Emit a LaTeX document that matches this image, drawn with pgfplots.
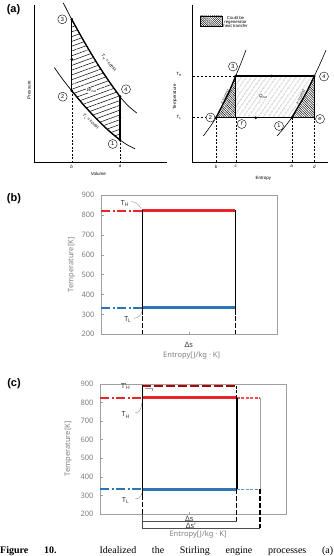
\documentclass[border=0pt]{standalone}
\usepackage{fontspec}
\setmainfont{Noto Sans}
\newfontfamily\arialf{Liberation Sans}
\newfontfamily\timesf{Liberation Serif}
\usepackage{pgfplots}
\pgfplotsset{compat=1.18}
\usetikzlibrary{patterns.meta}
\definecolor{tred}{HTML}{E8262A}
\definecolor{tdred}{HTML}{B00000}
\definecolor{tblue}{HTML}{2E75B6}
\definecolor{lblue}{HTML}{5B9BD5}
\definecolor{lred}{HTML}{F05050}
\definecolor{tgray}{HTML}{7F7F7F}
\definecolor{bgray}{HTML}{A0A0A0}
\newcommand\fs[1]{\fontsize{#1}{#1}\selectfont}
\pgfplotsset{
  tsax/.style={scale only axis, anchor=south west, clip=false,
    xmin=0, xmax=100, ymin=200, ymax=900,
    axis line style={bgray, line width=0.6pt},
    ytick={200,300,...,900}, tick align=inside, major tick length=2.5pt,
    tick style={bgray, line width=0.5pt},
    xtick pos=bottom, ytick pos=left,
    /pgf/number format/assume math mode=true,
    yticklabel style={font=\fs{7.5}, text=tgray, xshift=-3pt},
    xticklabel style={font=\fs{7.5}, text=black!80},
    ylabel={Temperature[K]}, xlabel={Entropy[J/kg · K]},
    label style={font=\fs{7.5}, text=tgray},
  },
  dd/.style={dash pattern=on 9pt off 2.5pt on 2pt off 2.5pt},
  bd/.style={dash pattern=on 4.5pt off 2.5pt},
}
\begin{document}
\begin{tikzpicture}
\path[use as bounding box] (0,0) rectangle (333pt,-556pt);
\node[font=\arialf\bfseries\fs{11}] at (13.5pt,-9.5pt) {(a)};
\node[font=\arialf\bfseries\fs{11}] at (14pt,-199pt) {(b)};
\node[font=\arialf\bfseries\fs{11}] at (14pt,-383.5pt) {(c)};

% ================= panel (a) =================
\begin{axis}[at={(0pt,-185pt)}, anchor=south west, width=333pt, height=185pt, scale only axis,
  xmin=0, xmax=333, ymin=-185, ymax=0, hide axis, clip=false]
% ---- P-V diagram
\addplot[draw=none, pattern={Lines[angle=20,distance=4.5pt,line width=0.5pt]}] coordinates {(71.7,-19.3) (83.8,-41.0) (95.9,-61.3) (107.9,-79.7) (120,-96.6) (120,-140) (107.9,-129.9) (95.9,-118.2) (83.8,-105.2) (71.7,-90.7)} -- cycle;
\addplot[black, line width=0.6pt] coordinates {(34,-5) (34,-162.3) (167,-162.3)};
\addplot[black, line width=0.7pt, smooth] coordinates {(63.3,-2.9) (71.7,-19.3) (83.8,-41.0) (95.9,-61.3) (107.9,-79.7) (120,-96.6) (128.3,-105.9) (136.7,-113)};
\addplot[black, line width=0.7pt, smooth] coordinates {(54.3,-67.5) (63,-79.7) (71.7,-90.7) (83.8,-105.2) (95.9,-118.2) (107.9,-129.9) (120,-140) (127.5,-145) (135,-148.8)};
\addplot[black, line width=1.3pt, smooth] coordinates {(71.7,-19.3) (83.8,-41.0) (95.9,-61.3) (107.9,-79.7) (120,-96.6)};
\addplot[black, line width=1.3pt, smooth] coordinates {(71.7,-90.7) (83.8,-105.2) (95.9,-118.2) (107.9,-129.9) (120,-140)};
\addplot[black, line width=1.3pt] coordinates {(71.7,-19.3) (71.7,-90.7)};
\addplot[black, line width=1.3pt] coordinates {(120,-96.6) (120,-140)};
\addplot[black, line width=0.4pt, dash pattern=on 2pt off 1.5pt] coordinates {(71.7,-90.7) (71.7,-162.3)};
\addplot[black, line width=0.4pt, dash pattern=on 2pt off 1.5pt] coordinates {(120,-140) (120,-162.3)};
\addplot[only marks, mark=*, mark size=1.1pt, black] coordinates {(71.7,-19.3) (71.7,-90.7) (120,-96.6) (120,-140) (71.7,-59.3) (120,-117.3)};
\node[circle, draw, inner sep=0pt, minimum size=9pt, font=\arialf\fs{5.5}, fill=white] at (axis cs:62.3,-19.3) {3};
\node[circle, draw, inner sep=0pt, minimum size=9pt, font=\arialf\fs{5.5}, fill=white] at (axis cs:62.7,-96.7) {2};
\node[circle, draw, inner sep=0pt, minimum size=9pt, font=\arialf\fs{5.5}, fill=white] at (axis cs:126,-89.3) {4};
\node[circle, draw, inner sep=0pt, minimum size=9pt, font=\arialf\fs{5.5}, fill=white] at (axis cs:112.7,-144) {1};
\node[font=\arialf\fs{4.5}, rotate=-50, inner sep=0pt] at (axis cs:108.5,-63) {\textit{T}\textsubscript{H}\,=\,const};
\node[font=\arialf\fs{4.5}, rotate=-42, inner sep=0pt] at (axis cs:90.5,-121.5) {\textit{T}\textsubscript{L}\,=\,const};
\node[font=\arialf\fs{4.5}, fill=white, inner sep=0.5pt] at (axis cs:91.7,-90.7) {\textit{W}\textsubscript{net}};
\node[font=\arialf\fs{4.5}, rotate=90] at (axis cs:29,-90) {Pressure};
\node[font=\arialf\fs{4.5}] at (axis cs:98.3,-174) {Volume};
\node[font=\arialf\itshape\fs{4.5}] at (axis cs:71.7,-166.5) {b};
\node[font=\arialf\itshape\fs{4.5}] at (axis cs:120,-166.5) {a};
% ---- T-S diagram
\addplot[draw=none, pattern={Lines[angle=55,distance=4pt,line width=0.45pt]}] coordinates {(216,-117.7) (222,-106) (229,-92) (235.7,-76) (314.3,-76) (306.6,-92) (298.6,-106) (291.7,-117.7)} -- cycle;
\addplot[draw=none, pattern={Lines[angle=-45,distance=1.7pt,line width=0.45pt]}] coordinates {(216,-117.7) (222,-106) (229,-92) (235.7,-76) (235.7,-117.7)} -- cycle;
\addplot[draw=none, pattern={Lines[angle=-45,distance=1.7pt,line width=0.45pt]}] coordinates {(291.7,-117.7) (298.6,-106) (306.6,-92) (314.3,-76) (314.3,-117.7)} -- cycle;
\addplot[black, line width=0.6pt] coordinates {(192.5,-5) (192.5,-162.7) (328,-162.7)};
\addplot[black, line width=0.4pt, dash pattern=on 2.5pt off 1.5pt] coordinates {(192.5,-76) (235.7,-76)};
\addplot[black, line width=0.4pt, dash pattern=on 2.5pt off 1.5pt] coordinates {(192.5,-117.7) (216,-117.7)};
\addplot[black, line width=0.4pt, dash pattern=on 2pt off 1.5pt] coordinates {(216,-117.7) (216,-162.7)};
\addplot[black, line width=0.4pt, dash pattern=on 2pt off 1.5pt] coordinates {(235.7,-117.7) (235.7,-162.7)};
\addplot[black, line width=0.4pt, dash pattern=on 2pt off 1.5pt] coordinates {(291.7,-117.7) (291.7,-162.7)};
\addplot[black, line width=0.4pt, dash pattern=on 2pt off 1.5pt] coordinates {(314.3,-117.7) (314.3,-162.7)};
\addplot[black, line width=0.5pt] coordinates {(235.7,-76) (235.7,-117.7)};
\addplot[black, line width=0.5pt] coordinates {(314.3,-76) (314.3,-117.7) (291.7,-117.7)};
\addplot[black, line width=0.6pt, smooth] coordinates {(203.3,-136) (209.5,-127.5) (216,-117.7) (222,-106) (229,-92) (235.7,-76) (241,-63) (246,-50)};
\addplot[black, line width=0.6pt, smooth] coordinates {(277.1,-136) (284.2,-127.5) (291.7,-117.7) (298.6,-106) (306.6,-92) (314.3,-76) (320.4,-63) (326.1,-50)};
\addplot[black, line width=1.3pt, smooth] coordinates {(216,-117.7) (222,-106) (229,-92) (235.7,-76)};
\addplot[black, line width=1.3pt, smooth] coordinates {(291.7,-117.7) (298.6,-106) (306.6,-92) (314.3,-76)};
\addplot[black, line width=1.3pt] coordinates {(235.7,-76) (314.3,-76)};
\addplot[black, line width=1.3pt] coordinates {(216,-117.7) (291.7,-117.7)};
\addplot[only marks, mark=*, mark size=1.1pt, black] coordinates {(216,-117.7) (235.7,-76) (314.3,-76) (291.7,-117.7) (271.7,-76) (255.7,-117.7)};
\addplot[draw=black, line width=0.4pt, pattern={Lines[angle=-45,distance=1.5pt,line width=0.4pt]}] coordinates {(200,-16) (221.7,-16) (221.7,-26.7) (200,-26.7)} -- cycle;
\node[font=\arialf\fs{4.3}, align=center, inner sep=0pt] at (axis cs:235.5,-22) {Could be\\regenerator\\heat transfer};
\node[circle, draw, inner sep=0pt, minimum size=9pt, font=\arialf\fs{5.5}, fill=white] at (axis cs:233,-66.5) {3};
\node[circle, draw, inner sep=0pt, minimum size=9pt, font=\arialf\fs{5.5}, fill=white] at (axis cs:324,-76.5) {4};
\node[circle, draw, inner sep=0pt, minimum size=9pt, font=\arialf\fs{5.5}, fill=white] at (axis cs:210.5,-117.5) {2};
\node[circle, draw, inner sep=0pt, minimum size=9pt, font=\arialf\itshape\fs{5.5}, fill=white] at (axis cs:241.7,-124) {f};
\node[circle, draw, inner sep=0pt, minimum size=9pt, font=\arialf\fs{5.5}, fill=white] at (axis cs:279,-126) {1};
\node[circle, draw, inner sep=0pt, minimum size=9pt, font=\arialf\itshape\fs{5.5}, fill=white] at (axis cs:320,-119) {e};
\node[font=\arialf\fs{4}, rotate=63, inner sep=0pt] at (axis cs:225,-97) {\textit{v}\,=\,const};
\node[font=\arialf\fs{4}, rotate=62, inner sep=0pt] at (axis cs:300.5,-97) {\textit{v}\,=\,const};
\node[font=\arialf\fs{4.5}, fill=white, inner sep=0.5pt] at (axis cs:263.3,-96.7) {\textit{Q}\textsubscript{net}};
\node[font=\arialf\fs{4.5}] at (axis cs:179,-74) {\textit{T}\textsubscript{H}};
\node[font=\arialf\fs{4.5}] at (axis cs:179,-117.5) {\textit{T}\textsubscript{L}};
\node[font=\arialf\fs{4.5}, rotate=90] at (axis cs:175,-97) {Temperature};
\node[font=\arialf\fs{4.5}] at (axis cs:263.3,-178.3) {Entropy};
\node[font=\arialf\itshape\fs{4.5}] at (axis cs:216,-166.5) {b};
\node[font=\arialf\itshape\fs{4.5}] at (axis cs:235.7,-166.5) {c};
\node[font=\arialf\itshape\fs{4.5}] at (axis cs:291.7,-166.5) {a};
\node[font=\arialf\itshape\fs{4.5}] at (axis cs:314.3,-166.5) {d};
\end{axis}

% ================= panel (b) =================
\begin{axis}[tsax, at={(101pt,-334.3pt)}, width=176.7pt, height=139pt,
  xtick={49.7}, xticklabels={Δs}, xticklabel style={yshift=-4pt},
  ylabel style={at={(axis description cs:-0.166,0.5)}, anchor=center},
  xlabel style={at={(axis description cs:0.513,-0.152)}, anchor=center}]
\addplot[tred, line width=2pt, dd] coordinates {(0,823) (23.4,823)};
\addplot[tred, line width=3pt] coordinates {(23.4,823) (76,823)};
\addplot[tblue, line width=2pt, dd] coordinates {(0,333) (23.4,333)};
\addplot[tblue, line width=3pt] coordinates {(23.4,333) (76,333)};
\addplot[black, line width=1.4pt] coordinates {(23.4,826) (23.4,295)};
\addplot[black, line width=1.4pt] coordinates {(76,826) (76,295)};
\addplot[black, line width=1.4pt, bd] coordinates {(23.4,290) (23.4,200)};
\addplot[black, line width=1.4pt, bd] coordinates {(76,290) (76,200)};
\node[font=\fs{7}, text=black!80] at (axis cs:13.6,860) {T\textsubscript{H}};
\draw[bgray, line width=0.5pt] (axis cs:17,868) to[out=0,in=120] (axis cs:22.6,834);
\node[font=\fs{7}, text=black!80] at (axis cs:15.2,276) {T\textsubscript{L}};
\draw[bgray, line width=0.5pt] (axis cs:18.3,281) to[out=0,in=-90] (axis cs:23,314);
\end{axis}

% ================= panel (c) =================
\begin{axis}[tsax, at={(100pt,-514pt)}, width=186pt, height=130.2pt,
  xtick={48}, xticklabels={Δs}, xticklabel style={yshift=1.5pt},
  ylabel style={at={(axis description cs:-0.170,0.5)}, anchor=center},
  xlabel style={at={(axis description cs:0.527,-0.156)}, anchor=center}]
\addplot[tred, line width=2pt, dd] coordinates {(0,825) (22.7,825)};
\addplot[tred, line width=3pt] coordinates {(22.7,825) (73.5,825)};
\addplot[lred, line width=1.5pt, dash pattern=on 3pt off 1.5pt] coordinates {(73.5,825) (86,825)};
\addplot[tdred, line width=2pt, dash pattern=on 9pt off 3pt] coordinates {(22.7,890) (73.5,890)};
\addplot[black, line width=1.2pt, dash pattern=on 3pt off 1.5pt] coordinates {(73.5,890) (73.5,825)};
\addplot[tblue, line width=2pt, dd] coordinates {(0,333) (22.7,333)};
\addplot[tblue, line width=3pt] coordinates {(22.7,333) (73.5,333)};
\addplot[lblue, line width=1.5pt, dash pattern=on 3pt off 1.5pt] coordinates {(73.5,333) (86,333)};
\addplot[black, line width=1.4pt] coordinates {(22.7,892) (22.7,300)};
\addplot[black, line width=1.4pt, bd] coordinates {(22.7,300) (22.7,200)};
\addplot[black!70, line width=0.6pt] coordinates {(22.7,200) (22.7,123)};
\addplot[black, line width=1.6pt] coordinates {(73.5,825) (73.5,333)};
\addplot[black, line width=1.4pt, bd] coordinates {(73.5,333) (73.5,162)};
\addplot[bgray, line width=0.8pt] coordinates {(86,825) (86,333)};
\addplot[black, line width=1.4pt, bd] coordinates {(86,333) (86,123)};
\addplot[black!70, line width=0.6pt] coordinates {(22.7,162) (73.5,162)};
\addplot[black!70, line width=0.6pt] coordinates {(22.7,123) (86,123)};
\node[font=\fs{7.5}, text=black!80] at (axis cs:48.8,138) {Δs’};
\node[font=\fs{7}, text=black!80] at (axis cs:13.8,884) {T’\textsubscript{H}};
\draw[bgray, line width=0.5pt] (axis cs:24.2,877) -- (axis cs:28,877) -- (axis cs:28,862);
\node[font=\fs{7}, text=black!80] at (axis cs:13.8,732) {T\textsubscript{H}};
\draw[bgray, line width=0.5pt] (axis cs:18.8,743) to[out=0,in=-90] (axis cs:22.4,797);
\node[font=\fs{7}, text=black!80] at (axis cs:13.8,271) {T\textsubscript{L}};
\draw[bgray, line width=0.5pt] (axis cs:18.8,281) to[out=0,in=-90] (axis cs:22.4,313);
\end{axis}

\node[anchor=base west, font=\timesf\fs{10}, inner sep=0pt] at (0pt,-553.3pt) {\makebox[333pt][s]{\textbf{Figure 10.} Idealized the Stirling engine processes (a)}};
\end{tikzpicture}
\end{document}
